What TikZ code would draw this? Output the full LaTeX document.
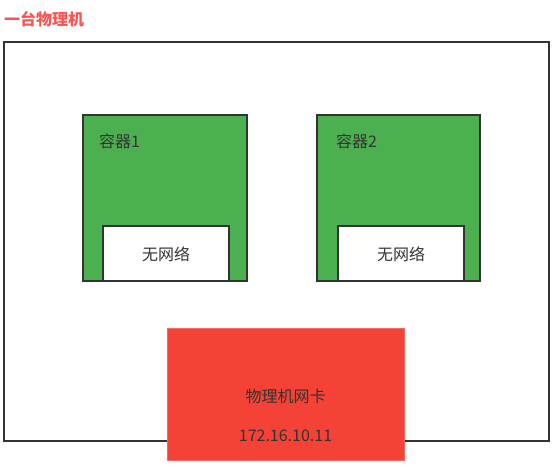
\documentclass[tikz,border=0pt]{standalone}
\usepackage{fontspec}
\setmainfont{Noto Sans CJK SC}
\newfontfamily\cjk{Noto Sans CJK SC}
\definecolor{boxgreen}{HTML}{4CAF50}
\definecolor{boxred}{HTML}{F44336}
\definecolor{redline}{HTML}{F26A60}
\definecolor{titlered}{HTML}{FF5252}
\definecolor{edge}{HTML}{333333}
\definecolor{txt}{HTML}{333333}
\begin{document}
\begin{tikzpicture}[x=1pt,y=-1pt,
  every node/.style={inner sep=0pt, font=\cjk\fontsize{16}{19}\selectfont, text=txt},
  frame/.style={draw=edge, line width=2pt},
  cont/.style={draw=edge, line width=2pt, fill=boxgreen},
  net/.style={draw=edge, line width=2pt, fill=white},
  nic/.style={draw=redline, line width=1pt, fill=boxred}]
\useasboundingbox (0,0) rectangle (556,467);
\node[anchor=west, text=titlered, font=\cjk\bfseries\fontsize{16}{19}\selectfont] (title) at (4,19) {一台物理机};
\draw[frame] (4,42) rectangle (549,441);
\draw[cont] (83,115) rectangle (247,281);
\draw[net] (103,226) rectangle (229,281);
\node[anchor=west] (c1) at (99,141) {容器1};
\node (n1) at (166,254) {无网络};
\draw[cont] (317,115) rectangle (480,281);
\draw[net] (338,226) rectangle (464,281);
\node[anchor=west] (c2) at (336,141) {容器2};
\node (n2) at (401,254) {无网络};
\draw[nic] (167,328) rectangle (404,460);
\node (nicname) at (285.5,396) {物理机网卡};
\node (ip) at (285.5,436) {172.16.10.11};
\end{tikzpicture}
\end{document}
